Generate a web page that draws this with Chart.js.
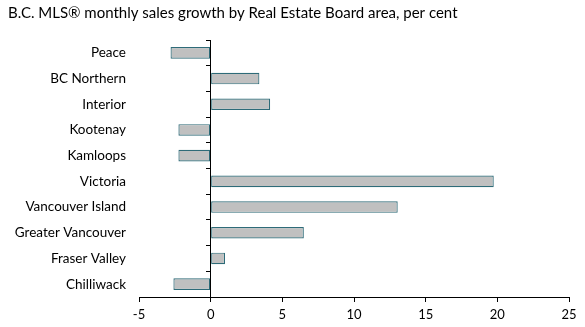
<!DOCTYPE html>
<html>
<head>
<meta charset="utf-8">
<script src="https://cdn.jsdelivr.net/npm/chart.js@4.4.0/dist/chart.umd.min.js"></script>
<style>
  html, body { margin: 0; padding: 0; background: #fff; }
  #wrap { width: 585px; height: 327px; }
</style>
</head>
<body>
<div id="wrap"><canvas id="salesChart" width="585" height="327"></canvas></div>
<script>
// monthly sales growth by board area, per cent
const areas = ["Peace", "BC Northern", "Interior", "Kootenay", "Kamloops", "Victoria",
  "Vancouver Island", "Greater Vancouver", "Fraser Valley", "Chilliwack"];
const growth = [-2.8, 3.4, 4.15, -2.25, -2.25, 19.75, 13.05, 6.5, 1.0, -2.6];
const xTicks = [-5, 0, 5, 10, 15, 20, 25];

const fontFam = "Lato, 'Open Sans', sans-serif";

new Chart(document.getElementById("salesChart"), {
  type: "bar",
  data: {
    labels: areas,
    datasets: [{
      data: growth,
      backgroundColor: "#c0c0c0",
      borderColor: "#2e6b78",
      borderWidth: 1.2,
      borderSkipped: false,
      categoryPercentage: 1,
      barPercentage: 0.45
    }]
  },
  options: {
    indexAxis: "y",
    responsive: false,
    animation: false,
    layout: { padding: { left: 8, right: 16, top: 0, bottom: 0 } },
    plugins: {
      legend: { display: false },
      tooltip: { enabled: false },
      title: {
        display: true,
        text: "B.C. MLS\u00ae monthly sales growth by Real Estate Board area, per cent",
        align: "start",
        color: "#000",
        font: { family: fontFam, size: 15, weight: "normal" },
        padding: { top: 4, bottom: 18 }
      }
    },
    scales: {
      x: {
        min: -5, max: 25,
        afterBuildTicks: (s) => { s.ticks = xTicks.map(v => ({ value: v })); },
        grid: { drawOnChartArea: false, drawTicks: true, tickLength: 5, color: "#000" },
        border: { display: true, color: "#000", width: 1 },
        ticks: { color: "#000", padding: 5, font: { family: fontFam, size: 13 } },
        afterFit: (s) => { s.height = 30; }
      },
      y: {
        grid: { display: false, drawTicks: false },
        border: { display: false },
        ticks: { color: "#000", padding: 13, font: { family: fontFam, size: 13.5 } },
        afterFit: (s) => { s.width = 131; }
      },
      zero: {
        type: "category",
        axis: "y",
        labels: areas,
        position: { x: 0 },
        offset: true,
        grid: { offset: true, drawOnChartArea: false, drawTicks: true, tickLength: 4, color: "#000" },
        border: { display: true, color: "#000", width: 1 },
        ticks: { display: false }
      }
    }
  }
});
</script>
</body>
</html>
